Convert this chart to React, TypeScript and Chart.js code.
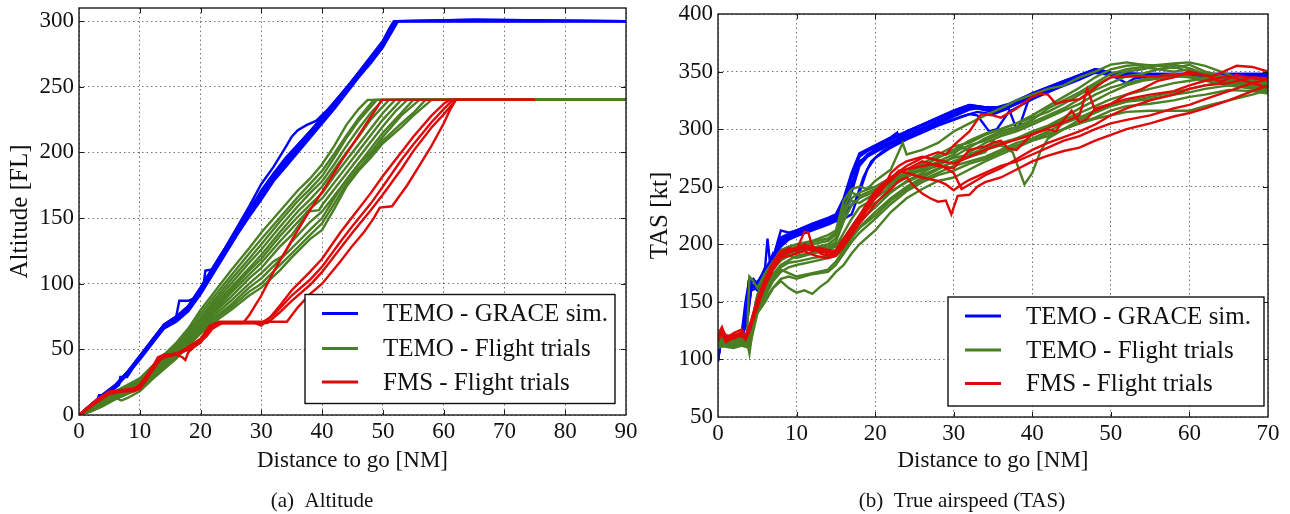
import React, { useEffect, useRef } from 'react';
import { Chart, registerables } from 'chart.js';

Chart.register(...registerables);

type P = [number, number];

// ---------- labels / ticks ----------
const seriesNames = ['TEMO - GRACE sim.', 'TEMO - Flight trials', 'FMS - Flight trials'];
const seriesColors = ['#0000ff', '#4a7f23', '#de0a0a'];
const altXTicks = [0, 10, 20, 30, 40, 50, 60, 70, 80, 90];
const altYTicks = [0, 50, 100, 150, 200, 250, 300];
const tasXTicks = [0, 10, 20, 30, 40, 50, 60, 70];
const tasYTicks = [50, 100, 150, 200, 250, 300, 350, 400];

// ---------- (a) Altitude [FL] vs distance to go [NM] ----------
const altGrace: P[][] = [
  [[0,0],[1.5,5],[3,11],[3.3,15],[4.6,15],[5.5,19],[6.6,23],[6.8,29],[7.9,29],[8.2,31],[10,44],[12,57],[14,69],[16,75],[16.5,87],[18,87],[19,89],[20.4,96],[20.8,110],[22.3,111],[23,116],[25,130],[27,146],[29,161],[31,175],[33,188],[35,199],[37,209],[39,220],[41,231],[43,242],[45,254],[47,266],[49,277],[50.5,288],[51.6,298],[52.2,300],[65,301],[90,300]],
  [[0,0],[2,7],[4,14],[6,22],[8,33],[10,45],[12,57],[14,69],[16,75],[18,83],[20,97],[22,112],[24,127],[26,143],[28,159],[30,176],[32,189],[34,204],[35,212],[36,217],[37.5,221],[39,224],[41,233],[43,244],[45,255],[47,266],[49,277],[50.5,288],[51.6,298],[52.2,300],[90,300]],
  [[0,0],[2,8],[4,15],[6,22],[8,32],[10,43],[12,55],[14,67],[16,73],[18,81],[20,95],[22,110],[24,126],[26,141],[28,155],[30,168],[32,182],[34,193],[36,203],[38,214],[40,225],[42,236],[44,248],[46,260],[48,271],[50,283],[51,291],[52,300],[90,300]],
  [[0,0],[2,7],[4,14],[6,21],[8,31],[10,42],[12,54],[14,66],[16,72],[18,80],[20,93],[22,108],[24,124],[26,139],[28,153],[30,166],[32,180],[34,191],[36,201],[38,212],[40,223],[42,234],[44,246],[46,258],[48,269],[50,281],[51.3,292],[52.3,300],[90,300]],
  [[0,0],[2,8],[4,16],[6,23],[8,33],[10,44],[12,56],[14,68],[16,74],[18,83],[20,97],[22,112],[24,127],[26,142],[28,157],[30,170],[32,183],[34,195],[36,205],[38,216],[40,227],[42,238],[44,249],[46,261],[48,273],[50,285],[51,294],[51.8,300],[90,300]],
  [[0,0],[2,7],[4,15],[6,22],[8,32],[10,43],[12,55],[14,66],[16,71],[18,79],[20,92],[22,107],[24,122],[26,137],[28,151],[30,164],[32,178],[34,189],[36,200],[38,211],[40,222],[42,233],[44,245],[46,257],[48,268],[50,280],[51.5,292],[52.5,300],[90,300]],
  [[0,0],[2,8],[4,15],[6,23],[8,33],[10,45],[12,57],[14,68],[16,74],[18,82],[20,96],[22,111],[24,126],[26,142],[28,156],[30,171],[32,184],[34,196],[36,206],[38,216],[40,226],[42,237],[44,248],[46,259],[48,270],[50,282],[51.2,292],[52,300],[65,301],[90,300]],
  [[0,0],[2,7],[4,14],[6,22],[8,32],[10,43],[12,55],[14,67],[16,73],[18,80],[20,94],[22,109],[24,125],[26,140],[28,154],[30,167],[32,181],[34,192],[36,202],[38,213],[40,224],[42,235],[44,247],[46,259],[48,270],[50,282],[51,290],[52.1,300],[90,300]],
];

const altTemo: P[][] = [
  [[0,0],[2,6],[4,12],[6,18],[8,23],[10,28],[12,37],[14,46],[16,55],[18,66],[20,80],[22,92],[25,110],[28,127],[30,139],[33,155],[36,171],[38,180],[40,191],[42,205],[44,221],[46,233],[47.5,240],[90,240]],
  [[0,0],[2,5],[4,11],[6,17],[8,22],[10,27],[12,36],[14,45],[16,54],[18,64],[20,77],[22,89],[25,106],[28,123],[30,134],[33,150],[36,166],[38,176],[40,186],[42,199],[44,213],[46,226],[48.5,240],[90,240]],
  [[0,0],[2,5],[4,10],[6,16],[8,21],[10,26],[12,34],[14,43],[16,52],[18,62],[20,74],[22,86],[25,103],[28,119],[30,130],[33,147],[36,163],[38,172],[40,182],[42,196],[44,211],[46,224],[49,240],[90,240]],
  [[0,0],[2,4],[4,10],[6,15],[8,20],[10,25],[12,33],[14,42],[16,51],[18,61],[20,72],[22,84],[25,100],[28,116],[30,126],[33,143],[36,159],[38,169],[40,178],[42,191],[44,205],[46,218],[48,230],[50,240],[90,240]],
  [[0,0],[2,5],[4,10],[6,15],[8,20],[10,24],[12,32],[14,41],[16,50],[18,60],[20,70],[22,82],[25,97],[28,112],[30,122],[33,139],[36,155],[38,164],[40,174],[42,187],[44,200],[46,212],[48,225],[51,240],[90,240]],
  [[0,0],[2,4],[4,9],[6,14],[8,19],[10,24],[12,32],[14,40],[16,49],[18,59],[20,69],[22,80],[25,95],[28,110],[30,119],[33,136],[36,151],[38,160],[40,169],[42,182],[44,194],[46,206],[48,218],[50,230],[52,240],[90,240]],
  [[0,0],[2,4],[4,9],[6,14],[8,19],[10,23],[12,31],[14,40],[16,48],[18,58],[20,68],[22,78],[25,93],[28,107],[30,116],[33,132],[36,147],[38,157],[40,165],[42,177],[44,189],[46,201],[48,213],[50,225],[53,240],[90,240]],
  [[0,0],[2,4],[4,9],[6,13],[8,18],[10,23],[12,30],[14,39],[16,47],[18,57],[20,67],[22,77],[25,90],[28,104],[30,112],[33,128],[35,137],[37,150],[37.5,155],[39.5,156],[40,160],[42,172],[44,184],[46,196],[48,208],[50,220],[52,231],[54,240],[90,240]],
  [[0,0],[2,3],[4,8],[6,13],[8,18],[10,22],[12,30],[14,38],[16,46],[18,56],[20,65],[22,75],[25,87],[28,100],[30,108],[32,117],[33.5,121],[35,132],[38,147],[40,155],[42,167],[44,179],[46,191],[48,203],[50,215],[53,230],[55,240],[90,240]],
  [[0,0],[2,3],[4,8],[6,12],[8,17],[10,21],[12,29],[14,37],[16,45],[18,55],[20,64],[22,73],[25,84],[28,97],[30,104],[33,118],[35,127],[38,141],[40,150],[42,165],[44,179],[46,191],[48,200],[50,212],[53,228],[56,240],[90,240]],
  [[0,0],[2,3],[4,7],[6,12],[8,16],[10,20],[12,28],[14,36],[16,44],[18,54],[20,63],[22,72],[25,82],[28,94],[30,100],[33,114],[35,123],[38,137],[40,146],[42,161],[44,176],[46,188],[48,198],[50,209],[53,222],[55,230],[57,240],[90,240]],
  [[0,0],[2,3],[3.5,6],[5,10],[6,13],[7,11],[8,13],[10,18],[12,27],[14,35],[16,43],[18,53],[20,62],[22,70],[25,80],[28,91],[30,97],[33,110],[35,120],[38,134],[40,141],[42,157],[44,174],[46,186],[48,196],[50,207],[53,219],[55,228],[58,240],[90,240]],
];

const altFms: P[][] = [
  [[0,0],[1,4],[3,11],[5,17],[6,18],[8,19],[9.5,20],[10.5,26],[12,36],[13,44],[14,46],[16,46],[17,44],[17.5,42],[18,48],[19,52],[20,56],[21,60],[22,66],[23.5,70],[27,70],[28,76],[30,91],[32,109],[35,133],[38,156],[40,170],[43,192],[45,206],[47,220],[49,234],[49.8,240],[75,240]],
  [[0,0],[1,4],[3,12],[5,18],[7,19],[9,20],[10,23],[11,29],[12,36],[13,42],[14,45],[16,47],[18,51],[20,57],[21,64],[22,69],[23,70],[29,70],[30,68],[31,72],[33,83],[35,95],[38,109],[40,119],[43,139],[45,151],[48,169],[50,182],[53,200],[55,212],[58,228],[60,237],[61,240],[75,240]],
  [[0,0],[1,3],[3,10],[5,16],[7,18],[9,19],[10,21],[11,27],[12,33],[13,40],[14,45],[16,46],[18,50],[20,56],[21,62],[21.5,66],[22.5,70],[30,70],[32,76],[35,91],[38,103],[40,113],[43,132],[45,144],[48,161],[50,174],[53,194],[55,206],[58,223],[60,233],[61.5,240],[75,240]],
  [[0,0],[1,3],[3,11],[5,17],[7,18],[9,18],[10,20],[11,26],[12,34],[13,41],[14,44],[16,46],[18,52],[20,58],[21.5,68],[22,66],[23,70],[31,70],[33,78],[35,87],[38,99],[40,109],[43,127],[45,139],[48,156],[50,168],[53,187],[55,201],[58,219],[60,229],[62,240],[75,240]],
  [[0,0],[1,4],[3,11],[5,17],[7,18],[9,19],[10,22],[11,28],[12,35],[13,42],[14,46],[16,46],[18,50],[20,55],[21,62],[22,69],[23,71],[34.2,71],[36,82],[38,92],[40,100],[43,117],[45,129],[47,140],[48.5,150],[49.5,158],[51.5,159],[54,175],[56,190],[58,205],[60,222],[61,232],[62,240],[75,240]],
];

// ---------- (b) TAS [kt] vs distance to go [NM] ----------
const tasGrace: P[][] = [
  [[0,98],[0.3,113],[1,115],[2,117],[3,120],[3.5,128],[3.9,168],[4.5,170],[5,165],[5.5,172],[6,180],[6.3,205],[6.6,185],[7,192],[7.5,188],[8,205],[9,208],[10,211],[12,216],[14,221],[15,224],[16,236],[17,258],[18,276],[19,281],[20,284],[22,291],[24,297],[26,303],[28,309],[30,315],[32,320],[33,320],[35,317],[37,321],[40,330],[43,338],[46,346],[48,352],[49,351],[50,348],[52,346],[55,347],[60,348],[65,347],[70,347]],
  [[0,100],[0.3,112],[1,114],[2,116],[3,119],[3.6,135],[4,166],[5,163],[6,175],[7,188],[8,212],[9,210],[10,212],[12,218],[14,223],[15,226],[16,240],[17,262],[18,279],[20,286],[22,293],[22.8,297],[23.2,290],[24,298],[26,304],[28,310],[30,316],[32,321],[33,320],[35,318],[37,322],[40,331],[43,339],[46,347],[48,352],[50,349],[52,347],[55,348],[60,348],[70,348]],
  [[0,105],[0.3,115],[1,116],[2,118],[3,121],[3.8,140],[4.2,160],[5,162],[6,172],[7,185],[8,200],[9,206],[10,209],[12,214],[14,219],[15,222],[16,228],[17,245],[18,268],[19,276],[20,280],[22,287],[24,293],[26,299],[28,305],[30,311],[32,317],[33,318],[35,315],[37,319],[40,328],[43,336],[46,344],[48,350],[50,347],[52,340],[53,344],[55,346],[60,347],[70,346]],
  [[0,102],[0.3,114],[1,115],[2,117],[3,120],[3.7,132],[4.3,165],[5,160],[6,170],[7,183],[8,198],[9,204],[10,207],[12,212],[14,217],[15,220],[16,222],[17,226],[18,245],[19,265],[20,275],[22,284],[24,291],[26,297],[28,303],[30,308],[32,313],[33,312],[34.5,298],[35.5,300],[37,315],[40,326],[43,335],[46,343],[48,349],[50,347],[55,346],[60,346],[70,346]],
  [[0,99],[0.3,116],[1,117],[2,119],[3,122],[3.5,150],[4,170],[5,167],[6,178],[7,190],[8,203],[9,207],[10,210],[12,215],[14,220],[15,223],[16,232],[17,252],[18,272],[20,282],[22,289],[24,295],[26,301],[28,307],[30,313],[32,319],[33,319],[35,316],[37,320],[40,329],[43,337],[46,345],[48,351],[50,348],[55,347],[60,347],[70,347]],
  [[0,101],[0.3,113],[1,114],[2,116],[3,119],[3.8,145],[4.3,163],[5,164],[6,174],[7,186],[8,201],[9,205],[10,208],[12,213],[14,218],[15,221],[16,225],[16.5,230],[17.5,238],[18.5,258],[19.5,272],[21,281],[23,289],[25,295],[27,301],[29,306],[31,311],[33,315],[35,313],[37,318],[38,300],[38.5,305],[39.5,325],[43,336],[46,344],[48,350],[50,347],[55,346],[60,347],[70,347]],
  [[0,103],[0.3,115],[1,116],[2,118],[3,121],[3.6,138],[4,168],[5,166],[6,177],[7,189],[8,206],[9,209],[10,212],[12,217],[14,222],[15,225],[16,238],[17,260],[18,277],[20,285],[22,292],[24,298],[26,304],[28,310],[30,316],[32,321],[34,319],[36,319],[38,324],[40,331],[43,339],[46,347],[48,352],[50,349],[55,348],[60,348],[70,348]],
  [[0,100],[0.3,114],[1,115],[2,117],[3,120],[3.7,142],[4.1,164],[5,163],[6,173],[7,186],[8,200],[9,205],[10,209],[12,214],[14,219],[15,222],[16,230],[17,248],[18,270],[19,278],[20,282],[22,288],[24,294],[26,300],[28,306],[30,312],[32,318],[33,318],[35,315],[37,319],[40,328],[43,337],[46,345],[48,351],[50,348],[55,347],[60,347],[70,347]],
];

const tasTemo: P[][] = [
  [[0,118],[1,115],[2,113],[3,115],[3.7,120],[4,172],[4.5,168],[5,162],[6,175],[7,185],[8,195],[9,198],[10,200],[12,203],[14,208],[15,212],[16,238],[17,248],[18,250],[19,248],[20,255],[22,265],[23.5,288],[24,278],[26,282],[28,288],[30,298],[32,305],[34,312],[36,318],[38,325],[40,330],[42,335],[44,338],[46,345],[48,350],[50,356],[52,358],[55,355],[58,357],[60,358],[62,355],[64,350],[66,345],[68,342],[70,340]],
  [[0,112],[1,113],[2,112],[3,114],[3.8,112],[4,105],[4.3,120],[5,148],[6,165],[7,178],[8,188],[9,192],[10,195],[12,197],[14,200],[15,205],[16,225],[17,240],[18,245],[20,250],[22,258],[24,262],[26,268],[28,275],[30,282],[32,290],[34,296],[36,300],[38,305],[40,312],[42,320],[44,328],[46,336],[48,345],[50,352],[52,355],[54,356],[56,355],[58,353],[60,356],[62,350],[65,345],[68,340],[70,338]],
  [[0,115],[1,112],[2,114],[3,113],[3.9,118],[4.5,135],[5,150],[6,160],[7,172],[8,180],[9,184],[10,185],[12,188],[14,190],[15,192],[16,198],[17,210],[18,220],[20,232],[22,245],[24,255],[26,262],[28,270],[30,275],[32,278],[34,284],[36,288],[38,292],[40,298],[42,303],[44,310],[46,318],[48,325],[50,332],[52,338],[54,342],[56,344],[58,346],[60,345],[62,342],[65,338],[68,335],[70,332]],
  [[0,113],[1,111],[2,110],[3,112],[4,110],[4.5,125],[5,140],[6,152],[7,162],[8,168],[9,162],[10,158],[11,160],[12,157],[13,163],[14,168],[15,176],[16,182],[17,192],[18,200],[20,212],[22,228],[24,240],[26,248],[28,255],[30,258],[32,265],[34,272],[36,278],[38,284],[40,290],[42,296],[44,300],[46,305],[48,309],[50,312],[52,315],[55,316],[58,316],[60,316],[62,320],[65,325],[68,330],[70,334]],
  [[0,116],[1,114],[2,115],[3,117],[4,115],[4.5,130],[5,145],[6,158],[7,170],[8,178],[9,175],[10,172],[12,175],[14,178],[15,185],[16,195],[17,205],[18,215],[20,228],[22,240],[24,250],[26,258],[28,265],[30,272],[32,278],[34,282],[36,286],[37.5,280],[39,252],[40,262],[41,280],[42,292],[44,300],[46,308],[48,314],[50,320],[52,324],[55,328],[58,332],[60,335],[62,338],[65,342],[68,340],[70,336]],
  [[0,120],[1,118],[2,116],[3,118],[4,121],[4.5,140],[5,155],[6,170],[7,182],[8,190],[9,193],[10,195],[12,200],[14,203],[15,208],[16,232],[17,245],[18,242],[20,248],[22,255],[24,262],[26,270],[28,278],[30,285],[32,288],[34,295],[36,300],[38,305],[40,310],[42,315],[44,322],[46,330],[48,338],[50,345],[52,350],[54,352],[56,355],[58,356],[60,353],[62,348],[65,344],[68,338],[70,336]],
  [[0,110],[1,112],[2,111],[3,113],[4,112],[4.5,128],[5,142],[6,155],[7,168],[8,176],[9,180],[10,182],[12,185],[14,188],[15,190],[16,196],[17,206],[18,214],[20,225],[22,238],[24,248],[26,256],[28,262],[30,268],[32,272],[34,276],[36,282],[38,288],[40,292],[42,298],[44,305],[46,310],[48,316],[50,320],[52,324],[55,326],[58,330],[60,332],[62,335],[65,338],[68,336],[70,333]],
  [[0,117],[1,115],[2,116],[3,118],[4,119],[4.5,135],[5,152],[6,166],[7,178],[8,186],[9,190],[10,188],[12,192],[14,195],[15,198],[16,210],[17,222],[18,232],[20,240],[22,250],[24,258],[26,265],[28,272],[30,278],[31,285],[32,280],[34,288],[36,294],[38,298],[40,304],[42,310],[44,316],[46,322],[48,330],[50,336],[52,340],[54,343],[56,346],[58,348],[60,346],[62,344],[65,340],[68,337],[70,335]],
  [[0,114],[1,113],[2,114],[3,116],[4,115],[4.5,132],[5,147],[6,162],[7,174],[8,182],[9,186],[10,190],[12,193],[14,196],[15,200],[16,205],[17,215],[18,225],[20,236],[22,246],[24,254],[26,260],[28,266],[30,272],[32,276],[34,280],[35,290],[36,286],[38,292],[40,296],[42,302],[44,308],[46,314],[48,320],[50,326],[52,330],[55,335],[58,340],[60,342],[62,344],[65,340],[68,338],[70,340]],
  [[0,119],[1,117],[2,118],[3,119],[4,120],[4.5,138],[5,156],[6,172],[7,185],[8,192],[9,196],[10,198],[12,202],[14,205],[15,210],[16,230],[17,238],[18,236],[20,244],[22,252],[24,260],[26,264],[28,268],[30,276],[32,284],[34,292],[36,298],[38,302],[40,308],[42,318],[44,325],[46,332],[48,340],[50,348],[52,352],[54,354],[56,352],[58,350],[60,352],[62,347],[65,343],[68,340],[70,337]],
  [[0,112],[1,114],[2,113],[3,115],[4,113],[4.5,127],[5,140],[6,150],[7,162],[8,170],[9,172],[10,170],[12,174],[14,176],[15,182],[16,192],[17,202],[18,210],[20,222],[22,235],[24,246],[26,254],[28,260],[30,264],[32,270],[34,274],[36,280],[38,286],[40,290],[42,294],[44,300],[46,305],[48,310],[50,316],[52,320],[55,322],[58,325],[60,328],[62,330],[65,334],[68,333],[70,331]],
  [[0,116],[1,115],[2,117],[3,118],[4,117],[4.5,136],[5,150],[6,166],[7,180],[8,188],[9,190],[10,193],[12,196],[14,198],[15,202],[16,220],[17,234],[18,240],[20,246],[22,254],[24,260],[26,266],[28,276],[30,280],[32,286],[34,290],[36,296],[38,300],[40,306],[42,312],[44,318],[46,326],[48,334],[50,340],[52,346],[54,348],[56,352],[58,354],[60,350],[62,346],[65,342],[68,336],[70,334]],
];

const tasFms: P[][] = [
  [[0,122],[0.5,128],[1,118],[2,123],[3,126],[3.5,120],[4,128],[5,150],[6,168],[7,182],[8,192],[9,195],[10,196],[11,200],[12,197],[13,195],[14,193],[15,195],[16,205],[17,215],[18,225],[19,236],[20,246],[21,253],[22,258],[24,268],[26,275],[28,280],[29,278],[30,286],[32,298],[33.5,313],[35,312],[36,310],[38,318],[40,328],[41,331],[42,330],[43,322],[44,324],[46,326],[48,336],[49,341],[50,345],[53,346],[56,346],[58,347],[60,348],[63,346],[65,352],[66,355],[68,354],[70,350]],
  [[0,115],[0.5,125],[1,120],[2,118],[3,122],[3.5,118],[4,126],[5,145],[6,165],[7,180],[8,190],[9,193],[10,195],[11,211],[11.5,210],[12,198],[13,192],[14,190],[15,191],[16,200],[17,212],[18,222],[19,232],[20,242],[21,250],[22,255],[23,262],[24,265],[26,272],[28,268],[30,266],[32,282],[34,285],[35,288],[36,290],[37,283],[38,282],[40,296],[42,300],[43,298],[44,308],[45,316],[46,306],[47,309],[48,318],[50,322],[52,330],[54,335],[56,342],[58,345],[60,350],[62,347],[64,341],[66,347],[68,344],[70,342]],
  [[0,118],[0.5,122],[1,115],[2,119],[3,121],[3.5,117],[4,125],[5,148],[6,164],[7,178],[8,188],[9,190],[10,192],[11,194],[12,191],[13,189],[14,188],[15,190],[16,198],[17,208],[18,218],[19,226],[20,235],[21,242],[22,248],[23,255],[24,258],[25,250],[26,244],[27,240],[28,237],[29,238],[29.7,226],[30.5,242],[32,243],[33,250],[34,254],[36,258],[38,265],[40,272],[42,277],[44,281],[46,284],[48,290],[50,295],[52,300],[55,305],[58,311],[60,314],[62,318],[65,325],[68,333],[70,338]],
  [[0,120],[0.5,126],[1,121],[2,120],[3,124],[3.5,119],[4,127],[5,152],[6,170],[7,184],[8,194],[9,196],[10,194],[11,197],[12,194],[13,196],[14,191],[15,193],[16,202],[17,214],[18,224],[19,234],[20,244],[21,252],[22,256],[23,264],[24,262],[26,258],[28,255],[29,252],[30,247],[31,252],[32,256],[34,262],[36,268],[38,272],[40,278],[42,284],[44,290],[46,294],[48,300],[50,305],[52,308],[55,312],[58,318],[60,321],[62,326],[65,333],[68,340],[70,343]],
  [[0,116],[0.5,124],[1,117],[2,121],[3,123],[3.5,118],[4,124],[5,147],[6,167],[7,181],[8,191],[9,194],[10,197],[11,195],[12,199],[13,193],[14,194],[15,192],[16,201],[17,211],[18,220],[19,230],[20,240],[21,248],[22,262],[23,268],[24,272],[26,276],[28,273],[30,270],[32,276],[34,282],[36,287],[38,291],[40,295],[42,301],[44,306],[46,312],[47,335],[48,316],[50,322],[52,326],[55,330],[58,333],[60,338],[62,342],[65,346],[68,340],[70,336]],
  [[0,121],[0.5,127],[1,119],[2,122],[3,120],[3.5,121],[4,129],[5,151],[6,169],[7,183],[8,192],[9,197],[10,195],[11,198],[12,196],[13,197],[14,195],[15,194],[16,203],[17,213],[18,223],[19,233],[20,243],[21,251],[22,257],[23,262],[24,265],[26,268],[28,270],[30,262],[31,248],[32,252],[34,260],[36,266],[38,274],[40,282],[42,288],[44,293],[46,298],[48,304],[50,312],[52,318],[55,325],[58,330],[60,335],[62,338],[65,340],[68,345],[70,344]],
];

// ---------- helpers ----------
const FONT = '"Liberation Serif", "Times New Roman", serif';

function makeSets(groups: P[][][]) {
  const out: any[] = [];
  groups.forEach((traces, gi) => {
    traces.forEach((t) => {
      out.push({
        data: t.map(([x, y]) => ({ x, y })),
        borderColor: seriesColors[gi],
        backgroundColor: seriesColors[gi],
        borderWidth: 2.4,
        pointRadius: 0,
        pointHoverRadius: 0,
        fill: false,
        tension: 0,
        order: 3 - gi,
      });
    });
  });
  return out;
}

const framePlugin = {
  id: 'frame',
  afterDraw(chart: any, _args: any, opts: any) {
    const { ctx, chartArea: a, scales } = chart;
    const L = 5;
    ctx.save();
    ctx.strokeStyle = '#1a1a1a';
    ctx.lineWidth = 1;
    ctx.beginPath();
    scales.x.ticks.forEach((t: any) => {
      const px = Math.round(scales.x.getPixelForValue(t.value)) + 0.5;
      if (px <= a.left + 1 || px >= a.right - 1) return;
      ctx.moveTo(px, a.bottom); ctx.lineTo(px, a.bottom - L);
      ctx.moveTo(px, a.top); ctx.lineTo(px, a.top + L);
    });
    scales.y.ticks.forEach((t: any) => {
      const py = Math.round(scales.y.getPixelForValue(t.value)) + 0.5;
      if (py <= a.top + 1 || py >= a.bottom - 1) return;
      ctx.moveTo(a.left, py); ctx.lineTo(a.left + L, py);
      ctx.moveTo(a.right, py); ctx.lineTo(a.right - L, py);
    });
    ctx.stroke();
    ctx.lineWidth = 1.4;
    ctx.strokeRect(a.left, a.top, a.right - a.left, a.bottom - a.top);

    // legend box (lower right)
    const lg = opts.legend;
    const bx = a.right - lg.right - lg.width;
    const by = a.bottom - lg.bottom - lg.height;
    ctx.fillStyle = '#ffffff';
    ctx.fillRect(bx, by, lg.width, lg.height);
    ctx.lineWidth = 1.4;
    ctx.strokeStyle = '#111';
    ctx.strokeRect(bx, by, lg.width, lg.height);
    ctx.font = `25px ${FONT}`;
    ctx.textBaseline = 'middle';
    ctx.textAlign = 'left';
    seriesNames.forEach((name, i) => {
      const yy = by + lg.rows[i];
      ctx.strokeStyle = seriesColors[i];
      ctx.lineWidth = 3;
      ctx.beginPath();
      ctx.moveTo(bx + 17, yy);
      ctx.lineTo(bx + 53, yy);
      ctx.stroke();
      ctx.fillStyle = '#111';
      ctx.fillText(name, bx + 78, yy + 1);
    });
    ctx.restore();
  },
};

function buildConfig(p: {
  sets: any[]; xMin: number; xMax: number; yMin: number; yMax: number;
  xTicks: number[]; yTicks: number[]; yTitle: string;
  padRight: number; padTop: number; yWidth: number; xHeight: number;
  legend: any;
}) {
  const gridOpts = { color: 'rgba(0,0,0,0.55)', lineWidth: 1, drawTicks: false };
  return {
    type: 'line' as const,
    data: { datasets: p.sets },
    options: {
      responsive: false,
      animation: false as const,
      events: [],
      layout: { padding: { left: 0, right: p.padRight, top: p.padTop, bottom: 0 } },
      plugins: {
        legend: { display: false },
        tooltip: { enabled: false },
        frame: { legend: p.legend },
      },
      scales: {
        x: {
          type: 'linear' as const,
          min: p.xMin,
          max: p.xMax,
          afterBuildTicks: (s: any) => { s.ticks = p.xTicks.map((v) => ({ value: v })); },
          afterFit: (s: any) => { s.height = p.xHeight; s.paddingLeft = 0; s.paddingRight = 0; },
          ticks: { padding: 3, autoSkip: false, maxRotation: 0, color: '#111', font: { family: FONT, size: 23 } },
          grid: gridOpts,
          border: { display: false, dash: [1.5, 3] },
          title: { display: true, text: 'Distance to go [NM]', color: '#111', font: { family: FONT, size: 23 }, padding: { top: 0, bottom: 39 } },
        },
        y: {
          type: 'linear' as const,
          min: p.yMin,
          max: p.yMax,
          afterBuildTicks: (s: any) => { s.ticks = p.yTicks.map((v) => ({ value: v })); },
          afterFit: (s: any) => { s.width = p.yWidth; s.paddingTop = 0; s.paddingBottom = 0; },
          ticks: { padding: 5, autoSkip: false, color: '#111', font: { family: FONT, size: 23 } },
          grid: gridOpts,
          border: { display: false, dash: [1.5, 3] },
          title: { display: true, text: p.yTitle, color: '#111', font: { family: FONT, size: 25 }, padding: { top: 5, bottom: 0 } },
        },
      },
    },
    plugins: [framePlugin],
  };
}

export default function App() {
  const leftRef = useRef<HTMLCanvasElement | null>(null);
  const rightRef = useRef<HTMLCanvasElement | null>(null);

  useEffect(() => {
    const c1 = new Chart(leftRef.current as HTMLCanvasElement, buildConfig({
      sets: makeSets([altGrace, altTemo, altFms]),
      xMin: 0, xMax: 90, yMin: 0, yMax: 310,
      xTicks: altXTicks, yTicks: altYTicks, yTitle: 'Altitude [FL]',
      padRight: 14, padTop: 8, yWidth: 79, xHeight: 99,
      legend: { width: 310, height: 109, right: 11, bottom: 11.5, rows: [19, 54, 87.5] },
    }) as any);
    const c2 = new Chart(rightRef.current as HTMLCanvasElement, buildConfig({
      sets: makeSets([tasGrace, tasTemo, tasFms]),
      xMin: 0, xMax: 70, yMin: 50, yMax: 400,
      xTicks: tasXTicks, yTicks: tasYTicks, yTitle: 'TAS [kt]',
      padRight: 22, padTop: 14, yWidth: 78, xHeight: 97,
      legend: { width: 316, height: 109, right: 4, bottom: 11, rows: [19, 53, 86.5] },
    }) as any);
    return () => { c1.destroy(); c2.destroy(); };
  }, []);

  const cap: React.CSSProperties = {
    position: 'absolute', top: 488, width: 644, height: 24, lineHeight: '24px',
    textAlign: 'center', fontFamily: FONT, fontSize: 21, color: '#111', whiteSpace: 'pre',
  };

  return (
    <div style={{ position: 'absolute', left: 0, top: 0, width: 1290, height: 514, background: '#fff', overflow: 'hidden' }}>
      <canvas ref={leftRef} width={640} height={514} style={{ position: 'absolute', left: 0, top: 0 }} />
      <canvas ref={rightRef} width={650} height={514} style={{ position: 'absolute', left: 640, top: 0 }} />
      <div style={{ ...cap, left: 0 }}>{'(a)\u2002Altitude'}</div>
      <div style={{ ...cap, left: 640 }}>{'(b)\u2002True airspeed (TAS)'}</div>
    </div>
  );
}
